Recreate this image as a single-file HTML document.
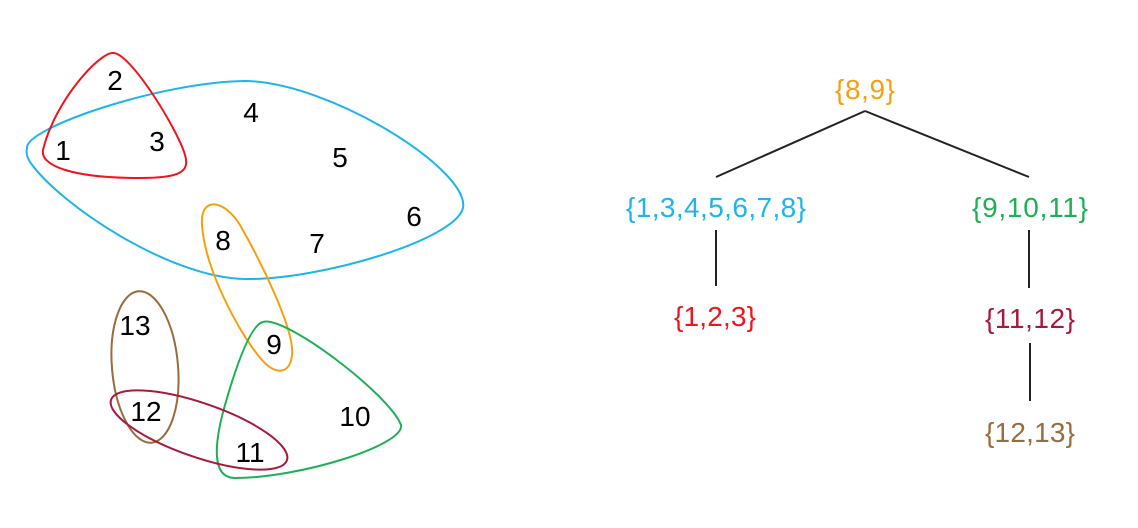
<!DOCTYPE html>
<html><head><meta charset="utf-8"><style>
html,body{margin:0;padding:0;background:#fff;}
svg{display:block;}
text{font-family:"Liberation Sans",sans-serif;}
</style></head><body>
<svg width="1138" height="528" viewBox="0 0 1138 528">
<g fill="none" stroke-width="2">
<path stroke="#1EB4EC" d="M27,148 C25,128 160,82 245,81 C330,82 470,170 463,208 C455,240 320,280 245,279 C170,278 60,205 30,162 C27,157 26,152 27,148 Z"/>
<path stroke="#F0141E" d="M113,53 C100,52 55,100 43,150 C40,165 70,178 140,178 C180,178 190,172 185,155 C178,130 130,52 113,53 Z"/>
<path stroke="#F5A00F" d="M202,225 C200,195 225,200 240,225 C260,260 295,330 292,355 C290,375 275,375 262,360 C240,335 205,270 202,225 Z"/>
<path stroke="#1DB154" d="M263,322 C285,315 390,395 401,425 C405,445 300,478 235,478 C210,478 215,440 225,405 C235,370 250,325 263,322 Z"/>
<ellipse stroke="#9A6B3C" cx="145" cy="367" rx="33" ry="76" transform="rotate(-5 145 367)"/>
<ellipse stroke="#A8193E" cx="199" cy="430" rx="93" ry="27" transform="rotate(19 199 430)"/>
</g>
<g font-size="28" fill="#000" text-anchor="middle">
<text x="63" y="160">1</text>
<text x="115" y="90">2</text>
<text x="157" y="151">3</text>
<text x="251" y="122">4</text>
<text x="340" y="167">5</text>
<text x="414" y="226">6</text>
<text x="317" y="253">7</text>
<text x="223" y="250">8</text>
<text x="274" y="354">9</text>
<text x="355" y="426">10</text>
<text x="250" y="462">11</text>
<text x="146" y="421">12</text>
<text x="135" y="335">13</text>
</g>
<g stroke="#222" stroke-width="2">
<line x1="865" y1="111" x2="716" y2="177"/>
<line x1="865" y1="111" x2="1029" y2="177"/>
<line x1="716" y1="230" x2="716" y2="286"/>
<line x1="1029" y1="230" x2="1029" y2="288"/>
<line x1="1030" y1="343" x2="1030" y2="401"/>
</g>
<g font-size="28" text-anchor="middle">
<text x="865" y="99" fill="#F5A00F" textLength="60">{8,9}</text>
<text x="716" y="217" fill="#1EB4EC" textLength="180">{1,3,4,5,6,7,8}</text>
<text x="1030" y="217" fill="#1DB154" textLength="116">{9,10,11}</text>
<text x="715" y="326" fill="#F0141E" textLength="82">{1,2,3}</text>
<text x="1030" y="328" fill="#A8193E" textLength="90">{11,12}</text>
<text x="1030" y="442" fill="#9A6B3C" textLength="90">{12,13}</text>
</g>
</svg>
</body></html>
